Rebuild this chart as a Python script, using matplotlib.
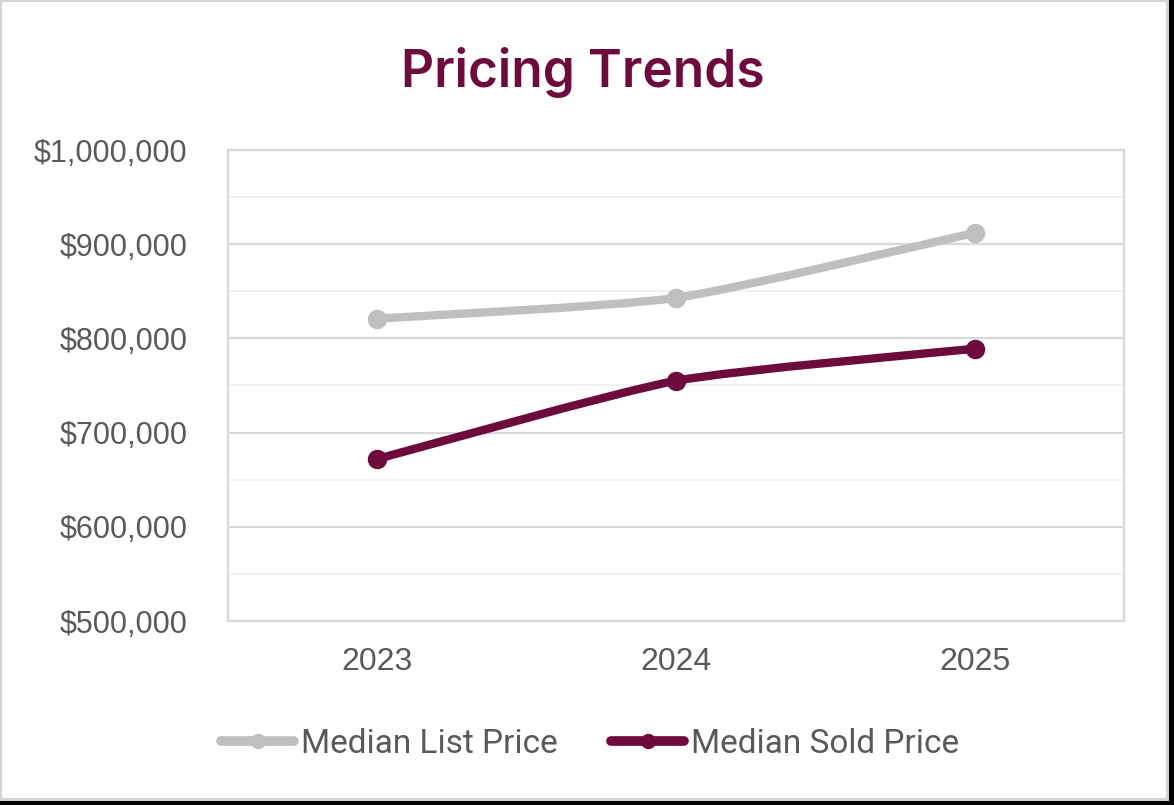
import matplotlib
matplotlib.use("Agg")
import matplotlib.pyplot as plt
import numpy as np
from matplotlib.path import Path
from matplotlib.patches import PathPatch, Rectangle
from matplotlib.lines import Line2D
from matplotlib.ticker import FuncFormatter, MultipleLocator
from matplotlib import font_manager

# ---- data ----
years = ["2023", "2024", "2025"]
list_price = [821000, 843000, 912000]
sold_price = [672000, 755000, 789000]
series_names = ["Median List Price", "Median Sold Price"]
title = "Pricing Trends"

GRAY = "#BFBFBF"
MAROON = "#6C0B3C"
TXT = "#595959"

avail = {f.name for f in font_manager.fontManager.ttflist}
legend_font = "Liberation Sans Narrow" if "Liberation Sans Narrow" in avail else "Roboto"

fig = plt.figure(figsize=(11.74, 8.05), dpi=100, facecolor="black")
fig.patches.append(Rectangle((0.0, 6 / 805), 1167 / 1174, 799 / 805, transform=fig.transFigure,
                             facecolor="white", edgecolor="#D4D4D4", linewidth=2.2, zorder=-10))

ax = fig.add_axes([228 / 1174, 1 - 621 / 805, (1124 - 228) / 1174, (621 - 150) / 805])
ax.set_facecolor("white")
x = np.arange(len(years)) + 0.5
ax.set_xlim(0, len(years))
ax.set_ylim(500000, 1000000)

ax.yaxis.set_major_locator(MultipleLocator(100000))
ax.yaxis.set_minor_locator(MultipleLocator(50000))
ax.yaxis.set_major_formatter(FuncFormatter(lambda v, p: f"${v:,.0f}"))
ax.grid(True, which="major", axis="y", color="#D9D9D9", linewidth=1.6, zorder=0)
ax.grid(True, which="minor", axis="y", color="#EFEFEF", linewidth=1.2, zorder=0)
ax.set_xticks(x)
ax.set_xticklabels(years)
ax.tick_params(axis="both", which="both", length=0, colors=TXT)
ax.tick_params(axis="y", pad=29, labelsize=22)
ax.tick_params(axis="x", pad=19, labelsize=23)
for lab in ax.get_xticklabels() + ax.get_yticklabels():
    lab.set_fontfamily("Liberation Sans")
for s in ax.spines.values():
    s.set_color("#D9D9D9")
    s.set_linewidth(1.6)


def smooth_path(xs, ys, k=10.0):
    xs = np.asarray(xs, float)
    ys = np.asarray(ys, float)
    n = len(xs)
    verts = [(xs[0], ys[0])]
    codes = [Path.MOVETO]
    for i in range(n - 1):
        p0 = (xs[max(i - 1, 0)], ys[max(i - 1, 0)])
        p1 = (xs[i], ys[i])
        p2 = (xs[i + 1], ys[i + 1])
        p3 = (xs[min(i + 2, n - 1)], ys[min(i + 2, n - 1)])
        c1 = (p1[0] + (p2[0] - p0[0]) / k, p1[1] + (p2[1] - p0[1]) / k)
        c2 = (p2[0] - (p3[0] - p1[0]) / k, p2[1] - (p3[1] - p1[1]) / k)
        verts += [c1, c2, p2]
        codes += [Path.CURVE4] * 3
    return Path(verts, codes)


for vals, col in [(list_price, GRAY), (sold_price, MAROON)]:
    ax.add_patch(PathPatch(smooth_path(x, vals), fill=False, edgecolor=col, linewidth=6,
                           capstyle="round", joinstyle="round", zorder=3))
    ax.plot(x, vals, linestyle="none", marker="o", markersize=13, color=col, zorder=4)

handles = [Line2D([], [], color=GRAY, linewidth=7, marker="o", markersize=10, solid_capstyle="round"),
           Line2D([], [], color=MAROON, linewidth=7, marker="o", markersize=10, solid_capstyle="round")]
leg = fig.legend(handles, series_names, loc="center", bbox_to_anchor=(590 / 1174, 1 - 744 / 805),
                 ncol=2, frameon=False, handlelength=2.2, handletextpad=0.2, columnspacing=1.6,
                 prop={"family": legend_font, "size": 24})
for t in leg.get_texts():
    t.set_color(TXT)

fig.text(583 / 1174, 1 - 73 / 805, title, ha="center", va="center", color=MAROON,
         fontsize=37, fontfamily="Inter", fontweight="semibold")

fig.savefig("out.png", dpi=100, facecolor=fig.get_facecolor())
